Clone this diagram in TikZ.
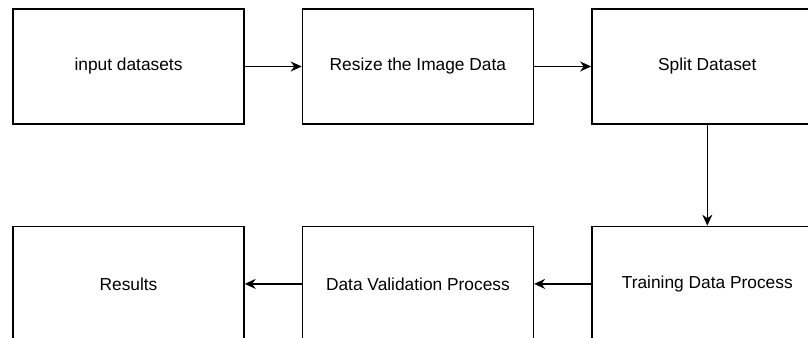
\documentclass[tikz,border=0pt]{standalone}
\usepackage{fontspec}
\setmainfont{Liberation Sans}
\usetikzlibrary{positioning, arrows.meta}

\begin{document}
\begin{tikzpicture}[
    stepbox/.style={draw, line width=1.2pt, minimum width=6.93cm, minimum height=3.45cm,
                    inner sep=0pt, font=\fontsize{14.8}{17}\selectfont},
    flow/.style={-{Stealth[length=0.33cm, width=0.3cm]}, line width=1.2pt},
    node distance=3.03cm and 1.71cm
]
    % Page: the reference is cut off at its right and bottom edges
    \useasboundingbox (0,0) rectangle (24.24,10.14);
    \clip (0,0) rectangle (24.24,10.14);

    % Top row:
    \node [stepbox] (input) at (3.855,8.145) {input datasets};
    \node [stepbox, right=of input] (resize) {Resize the Image Data};
    \node [stepbox, right=of resize] (split) {Split Dataset};

    % Bottom row, read from right to left:
    \node [stepbox, below=of split] (train) {Training Data Process};
    \node [stepbox, left=of train] (valid) {Data Validation Process};
    \node [stepbox, left=of valid] (result) {Results};

    % Connectors:
    \draw [flow] (input) -- (resize);
    \draw [flow] (resize) -- (split);
    \draw [flow] (split) -- (train);
    \draw [flow] (train) -- (valid);
    \draw [flow] (valid) -- (result);
\end{tikzpicture}
\end{document}
